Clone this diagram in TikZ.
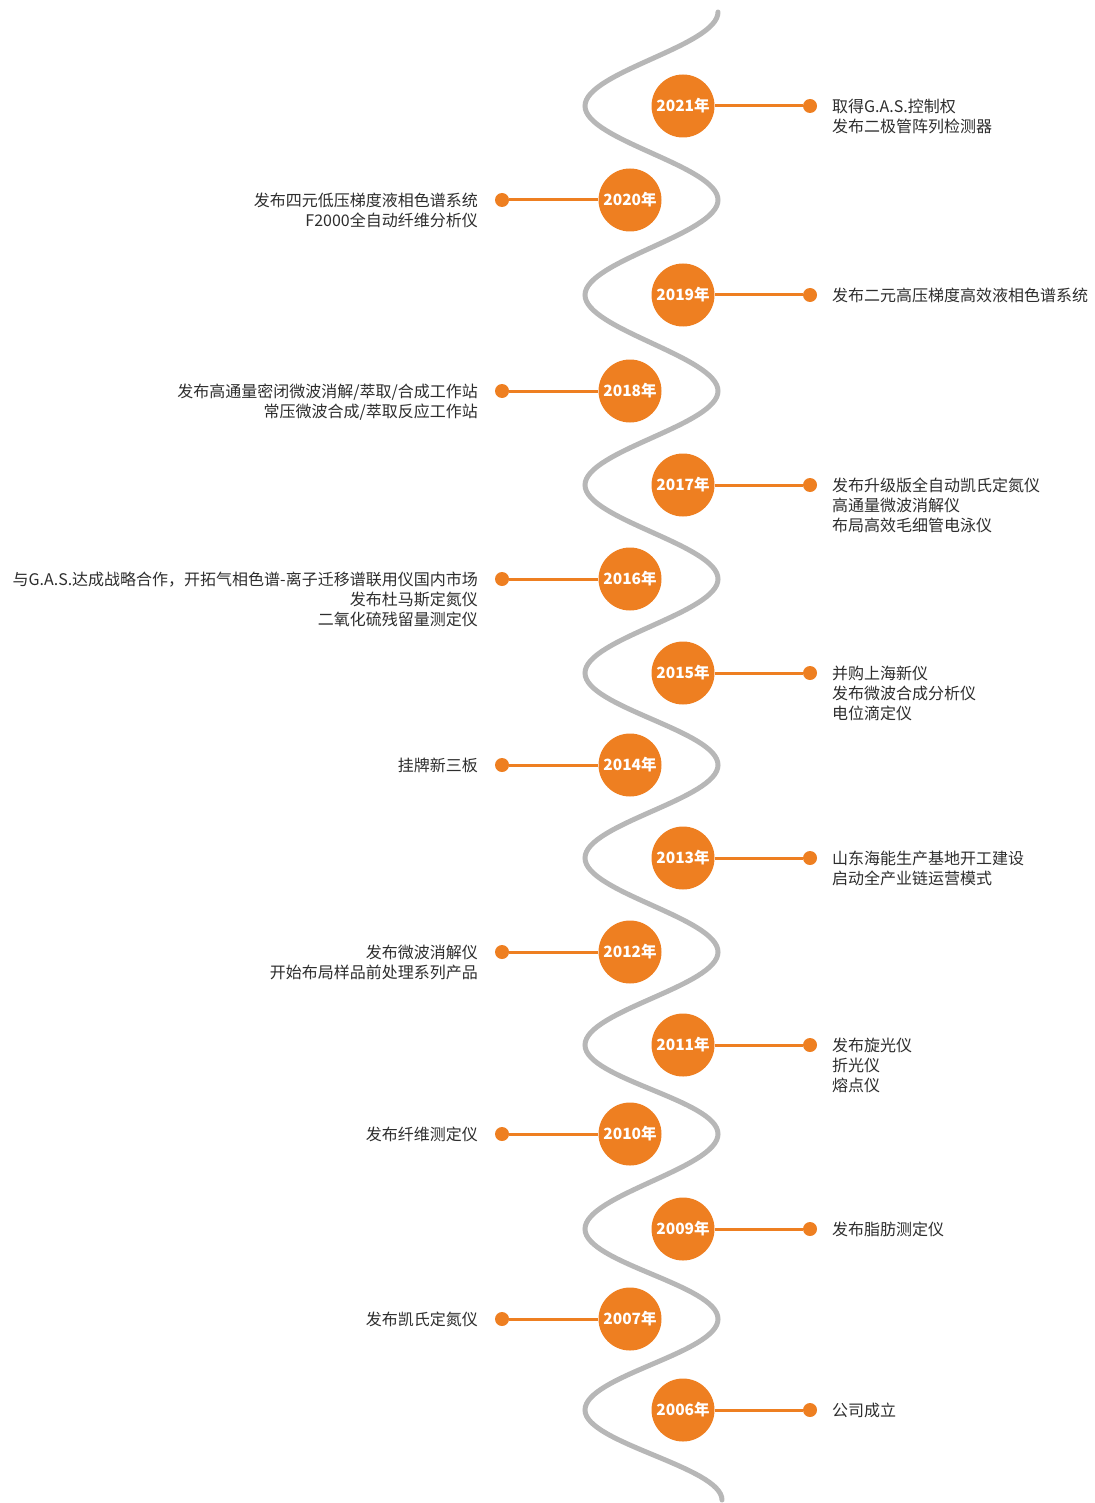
\documentclass[tikz,border=0pt]{standalone}
\usepackage{fontspec}
\setmainfont{Noto Sans CJK SC}
\definecolor{accent}{RGB}{238,127,33}
\definecolor{wavegray}{RGB}{183,183,183}
\definecolor{ink}{RGB}{45,45,45}
\begin{document}
\begin{tikzpicture}[x=1pt,y=-1pt,
  yearnode/.style={circle, fill=accent, minimum size=63pt, inner sep=0pt,
    text=white, font=\fontsize{15.5}{15.5}\selectfont\bfseries},
  pin/.style={circle, fill=accent, minimum size=14pt, inner sep=0pt},
  link/.style={draw=accent, line width=3pt},
  rlabel/.style={anchor=north west, align=left, inner sep=0pt, text=ink,
    font=\fontsize{16}{20}\selectfont},
  llabel/.style={anchor=north east, align=right, inner sep=0pt, text=ink,
    font=\fontsize{16}{20}\selectfont}]
\useasboundingbox (0,0) rectangle (1094,1503);

% the winding gray road
\draw[wavegray, line width=5pt, line cap=round]
  (718,12)
  .. controls +(0,34) and +(0,-34) .. (585,106)
  .. controls +(0,34) and +(0,-34) .. (718,200)
  .. controls +(0,34) and +(0,-34) .. (585,295)
  .. controls +(0,34) and +(0,-34) .. (718,391)
  .. controls +(0,34) and +(0,-34) .. (585,485)
  .. controls +(0,34) and +(0,-34) .. (718,579)
  .. controls +(0,34) and +(0,-34) .. (585,673)
  .. controls +(0,34) and +(0,-34) .. (718,765)
  .. controls +(0,34) and +(0,-34) .. (585,858)
  .. controls +(0,34) and +(0,-34) .. (718,952)
  .. controls +(0,34) and +(0,-34) .. (585,1045)
  .. controls +(0,34) and +(0,-34) .. (718,1134)
  .. controls +(0,34) and +(0,-34) .. (585,1229)
  .. controls +(0,34) and +(0,-34) .. (718,1319)
  .. controls +(0,34) and +(0,-34) .. (585,1410)
  .. controls +(0,33) and +(0,-33) .. (722,1500);

% right-hand milestones
\node[yearnode] (y2021) at (683,106) {2021年};
\node[pin] (p2021) at (810,106) {};
\draw[link] (y2021) -- (p2021);
\node[rlabel] (t2021) at (832,99) {取得G.A.S.控制权\\发布二极管阵列检测器};

\node[yearnode] (y2019) at (683,295) {2019年};
\node[pin] (p2019) at (810,295) {};
\draw[link] (y2019) -- (p2019);
\node[rlabel] (t2019) at (832,288) {发布二元高压梯度高效液相色谱系统};

\node[yearnode] (y2017) at (683,485) {2017年};
\node[pin] (p2017) at (810,485) {};
\draw[link] (y2017) -- (p2017);
\node[rlabel] (t2017) at (832,478) {发布升级版全自动凯氏定氮仪\\高通量微波消解仪\\布局高效毛细管电泳仪};

\node[yearnode] (y2015) at (683,673) {2015年};
\node[pin] (p2015) at (810,673) {};
\draw[link] (y2015) -- (p2015);
\node[rlabel] (t2015) at (832,666) {并购上海新仪\\发布微波合成分析仪\\电位滴定仪};

\node[yearnode] (y2013) at (683,858) {2013年};
\node[pin] (p2013) at (810,858) {};
\draw[link] (y2013) -- (p2013);
\node[rlabel] (t2013) at (832,851) {山东海能生产基地开工建设\\启动全产业链运营模式};

\node[yearnode] (y2011) at (683,1045) {2011年};
\node[pin] (p2011) at (810,1045) {};
\draw[link] (y2011) -- (p2011);
\node[rlabel] (t2011) at (832,1038) {发布旋光仪\\折光仪\\熔点仪};

\node[yearnode] (y2009) at (683,1229) {2009年};
\node[pin] (p2009) at (810,1229) {};
\draw[link] (y2009) -- (p2009);
\node[rlabel] (t2009) at (832,1222) {发布脂肪测定仪};

\node[yearnode] (y2006) at (683,1410) {2006年};
\node[pin] (p2006) at (810,1410) {};
\draw[link] (y2006) -- (p2006);
\node[rlabel] (t2006) at (832,1403) {公司成立};

% left-hand milestones
\node[yearnode] (y2020) at (630,200) {2020年};
\node[pin] (p2020) at (502,200) {};
\draw[link] (y2020) -- (p2020);
\node[llabel] (t2020) at (478,193) {发布四元低压梯度液相色谱系统\\F2000全自动纤维分析仪};

\node[yearnode] (y2018) at (630,391) {2018年};
\node[pin] (p2018) at (502,391) {};
\draw[link] (y2018) -- (p2018);
\node[llabel] (t2018) at (478,384) {发布高通量密闭微波消解/萃取/合成工作站\\常压微波合成/萃取反应工作站};

\node[yearnode] (y2016) at (630,579) {2016年};
\node[pin] (p2016) at (502,579) {};
\draw[link] (y2016) -- (p2016);
\node[llabel] (t2016) at (478,572) {与G.A.S.达成战略合作，开拓气相色谱-离子迁移谱联用仪国内市场\\发布杜马斯定氮仪\\二氧化硫残留量测定仪};

\node[yearnode] (y2014) at (630,765) {2014年};
\node[pin] (p2014) at (502,765) {};
\draw[link] (y2014) -- (p2014);
\node[llabel] (t2014) at (478,758) {挂牌新三板};

\node[yearnode] (y2012) at (630,952) {2012年};
\node[pin] (p2012) at (502,952) {};
\draw[link] (y2012) -- (p2012);
\node[llabel] (t2012) at (478,945) {发布微波消解仪\\开始布局样品前处理系列产品};

\node[yearnode] (y2010) at (630,1134) {2010年};
\node[pin] (p2010) at (502,1134) {};
\draw[link] (y2010) -- (p2010);
\node[llabel] (t2010) at (478,1127) {发布纤维测定仪};

\node[yearnode] (y2007) at (630,1319) {2007年};
\node[pin] (p2007) at (502,1319) {};
\draw[link] (y2007) -- (p2007);
\node[llabel] (t2007) at (478,1312) {发布凯氏定氮仪};
\end{tikzpicture}
\end{document}
